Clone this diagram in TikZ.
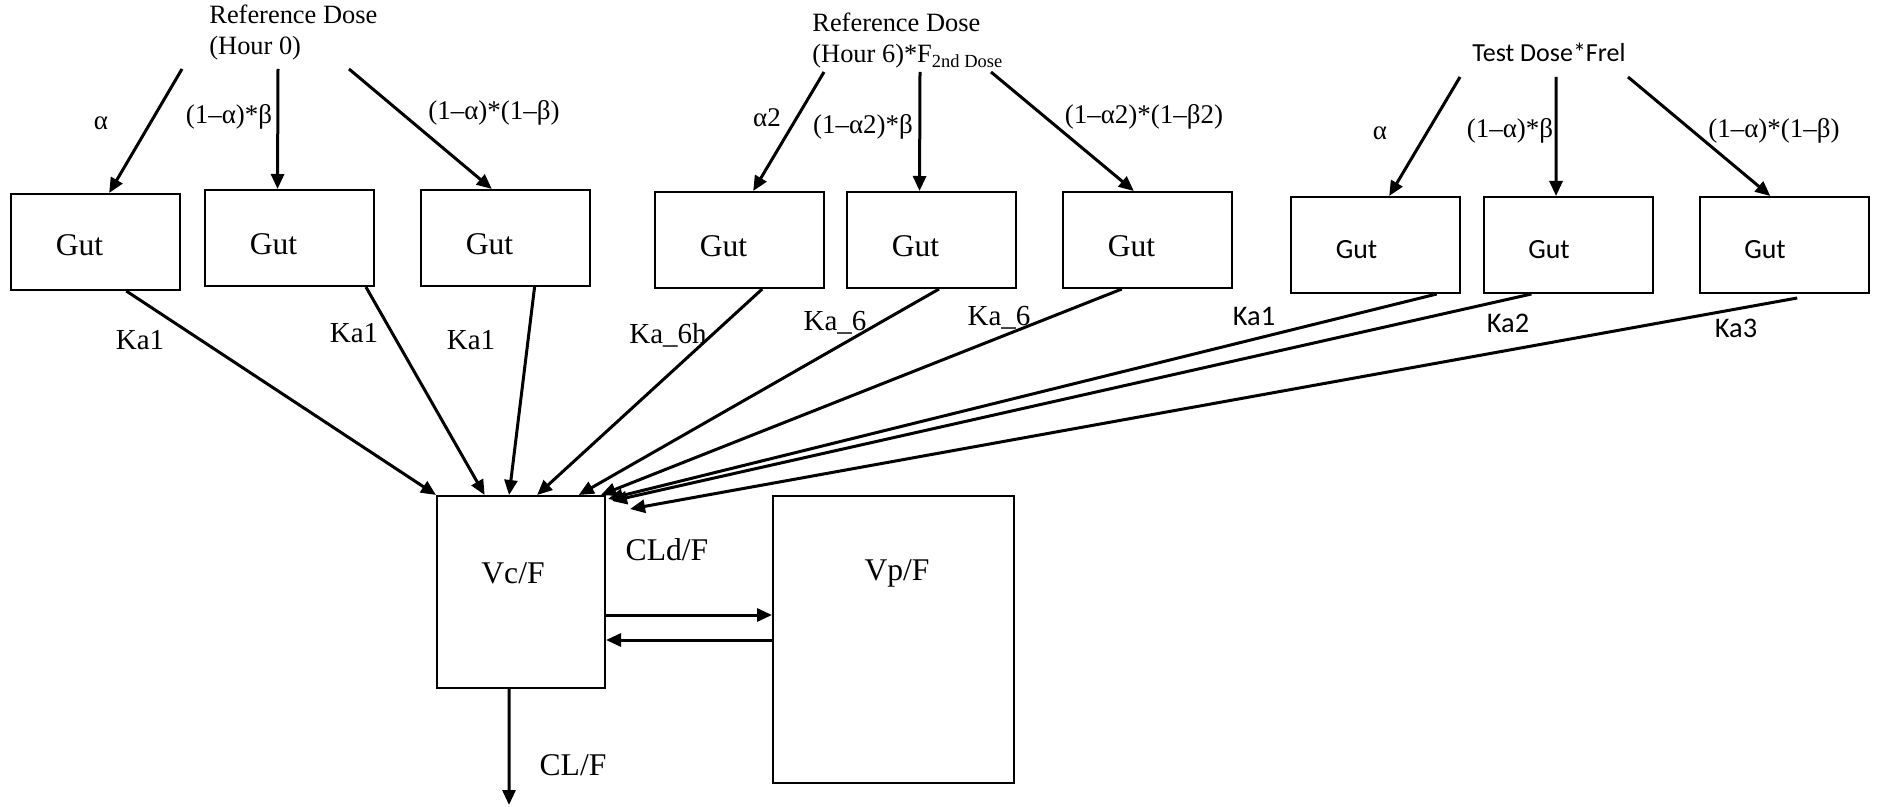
\documentclass[tikz,border=0pt]{standalone}
\usepackage{fontspec}
\setmainfont{Liberation Serif}
\newfontfamily\carlito{Carlito}
\usetikzlibrary{arrows.meta,calc}

\tikzset{
gutbox/.style={draw, line width=1pt, minimum width=84.5pt, minimum height=48pt, inner sep=0pt},
cmpt/.style={draw, line width=1pt, inner sep=0pt},
guttxt/.style={xshift=-8pt, yshift=-3pt, inner sep=0pt, font=\fontsize{15.8}{18}\selectfont},
guttxtb/.style={xshift=-9.5pt, yshift=-2.5pt, inner sep=0pt, font=\carlito\fontsize{13.9}{16}\selectfont},
flow/.style={line width=1.5pt, -{Triangle[length=7.5pt,width=6.5pt]}},
dosettl/.style={inner sep=0pt, align=left, font=\fontsize{13.2}{15.5}\selectfont},
frac/.style={inner sep=0pt, font=\fontsize{13.5}{15}\selectfont},
kalbl/.style={inner sep=0pt, font=\fontsize{14.5}{16}\selectfont},
kalblb/.style={inner sep=0pt, font=\carlito\fontsize{14.2}{16}\selectfont},
pklbl/.style={inner sep=0pt, font=\fontsize{15.8}{18}\selectfont}
}

\begin{document}
\begin{tikzpicture}[x=0.5pt,y=-0.5pt]
\useasboundingbox (0,0) rectangle (1877,807);

% doses
\node (dose0) at (209,33) [anchor=west, dosettl] {Reference Dose\\(Hour 0)};
\node (dose6) at (812,41) [anchor=west, dosettl] {Reference Dose\\(Hour 6)*F\textsubscript{2nd Dose}};
\node (dosetest) at (1549,52) [inner sep=0pt, font=\carlito\fontsize{13}{15}\selectfont] {Test Dose*Frel};
\coordinate (d0a) at (182,69);
\coordinate (d0b) at (278,69);
\coordinate (d0c) at (349,69);
\coordinate (d6a) at (824,72);
\coordinate (d6b) at (920,72);
\coordinate (d6c) at (991,72);
\coordinate (dta) at (1460,77);
\coordinate (dtb) at (1556,77);
\coordinate (dtc) at (1628,77);

% gut compartments
\node (gut1) at (95.5,242) [gutbox, label={[guttxt, yshift=1.5pt]center:Gut}] {};
\node (gut2) at (289.5,238) [gutbox, label={[guttxt]center:Gut}] {};
\node (gut3) at (505.5,238) [gutbox, label={[guttxt]center:Gut}] {};
\node (gut4) at (739.5,240) [gutbox, label={[guttxt]center:Gut}] {};
\node (gut5) at (931.5,240) [gutbox, label={[guttxt]center:Gut}] {};
\node (gut6) at (1147.5,240) [gutbox, label={[guttxt]center:Gut}] {};
\node (gut7) at (1375.5,245) [gutbox, label={[guttxtb]center:Gut}] {};
\node (gut8) at (1568,245) [gutbox, label={[guttxtb]center:Gut}] {};
\node (gut9) at (1784,245) [gutbox, label={[guttxtb]center:Gut}] {};

% central and peripheral
\node (vc) at (521,592) [cmpt, minimum width=84pt, minimum height=96pt,
  label={[pklbl, xshift=-4pt, yshift=9.5pt]center:Vc/F}] {};
\node (vp) at (893.5,639.5) [cmpt, minimum width=120.5pt, minimum height=143.5pt,
  label={[pklbl, xshift=1.75pt, yshift=33pt]center:Vp/F}] {};
\coordinate (out) at (509,805);

% fractions
\node (fa1) at (101,123) [frac] {α};
\node (fb1) at (229,117) [frac] {(1–α)*β};
\node (fc1) at (494,113) [frac] {(1–α)*(1–β)};
\node (fa2) at (767,118) [frac] {α2};
\node (fb2) at (863,127) [frac] {(1–α2)*β};
\node (fc2) at (1144,117) [frac] {(1–α2)*(1–β2)};
\node (fa3) at (1380,133) [frac] {α};
\node (fb3) at (1510,131) [frac] {(1–α)*β};
\node (fc3) at (1774,131) [frac] {(1–α)*(1–β)};

% absorption rates
\node (ka1) at (140,340) [kalbl] {Ka1};
\node (ka2) at (354,333) [kalbl] {Ka1};
\node (ka3) at (471,340) [kalbl] {Ka1};
\node (ka4) at (668,335) [kalbl] {Ka\_6h};
\node (ka5) at (835,323) [kalbl] {Ka\_6};
\node (ka6) at (999,318) [kalbl] {Ka\_6};
\node (ka7) at (1254,316) [kalblb] {Ka1};
\node (ka8) at (1508,323) [kalblb] {Ka2};
\node (ka9) at (1736,328) [kalblb] {Ka3};
\node (cld) at (667,550) [pklbl] {CLd/F};
\node (cl) at (573,765) [pklbl] {CL/F};

\path[flow]
(d0a) edge ($(gut1.north west)!.58!(gut1.north east)$)
(d0b) edge ($(gut2.north west)!.43!(gut2.north east)$)
(d0c) edge ($(gut3.north west)!.42!(gut3.north east)$)
(d6a) edge ($(gut4.north west)!.58!(gut4.north east)$)
(d6b) edge ($(gut5.north west)!.43!(gut5.north east)$)
(d6c) edge ($(gut6.north west)!.42!(gut6.north east)$)
(dta) edge ($(gut7.north west)!.58!(gut7.north east)$)
(dtb) edge ($(gut8.north west)!.43!(gut8.north east)$)
(dtc) edge ($(gut9.north west)!.42!(gut9.north east)$);

\path[flow]
($(gut1.south west)!.68!(gut1.south east)$) edge (vc.north west)
($(gut2.south west)!.947!(gut2.south east)$) edge ($(vc.north west)!.286!(vc.north east)$)
($(gut3.south west)!.67!(gut3.south east)$) edge ($(vc.north west)!.43!(vc.north east)$)
($(gut4.south west)!.633!(gut4.south east)$) edge ($(vc.north west)!.595!(vc.north east)$)
($(gut5.south west)!.544!(gut5.south east)$) edge ($(vc.north west)!.84!(vc.north east)$)
($(gut6.south west)!.35!(gut6.south east)$) edge ($(vc.north west)!.97!(vc.north east)$)
($(gut7.south west)!.858!(gut7.south east)$) edge ([xshift=1pt,yshift=-2pt]vc.north east)
($(gut8.south west)!.286!(gut8.south east)$) edge ([xshift=3pt,yshift=-3pt]vc.north east)
([yshift=-2pt]$(gut9.south west)!.577!(gut9.south east)$) edge ([xshift=12pt,yshift=-7pt]vc.north east);

\path[flow]
([yshift=-11.5pt]vc.east) edge ([yshift=-11.5pt]vc.east -| vp.west)
([yshift=-24pt]vc.east -| vp.west) edge ([yshift=-24pt]vc.east)
($(vc.south west)!.43!(vc.south east)$) edge (out);
\end{tikzpicture}
\end{document}
